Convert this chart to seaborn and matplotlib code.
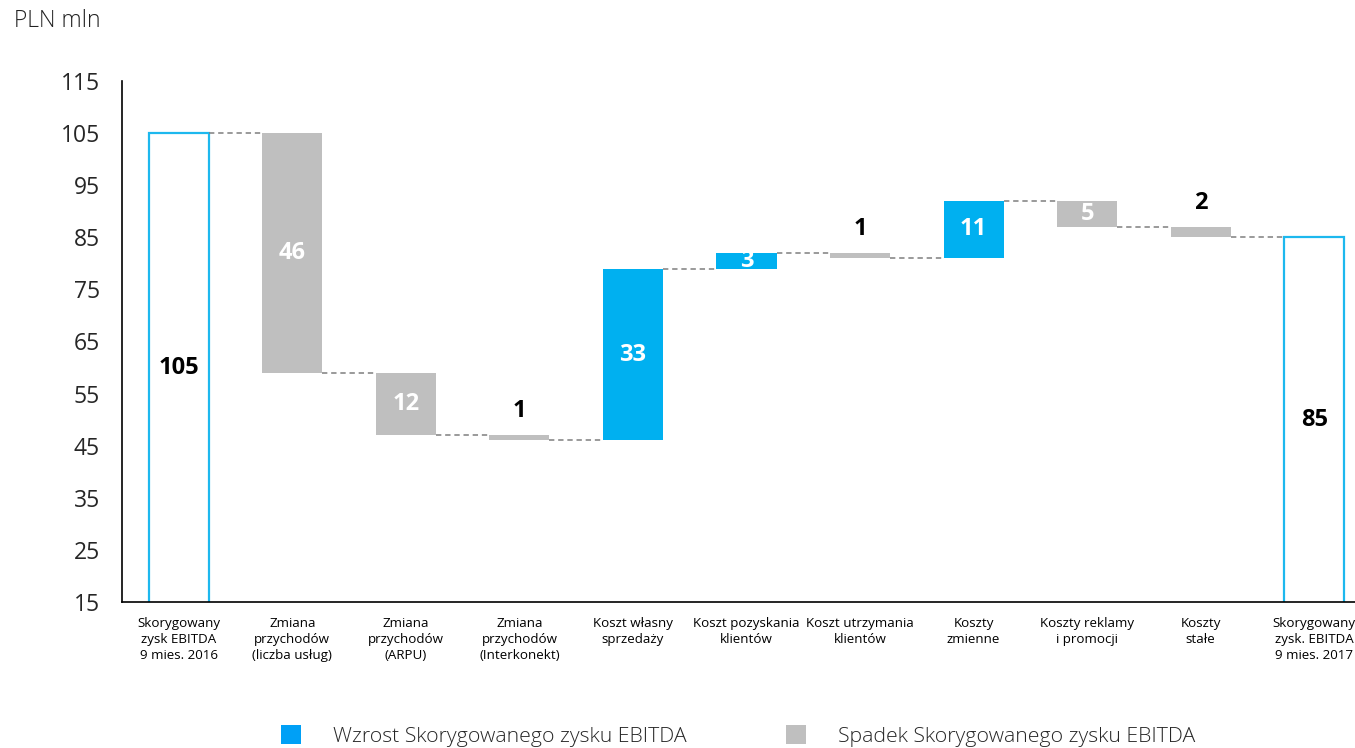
import matplotlib
matplotlib.use("Agg")
import matplotlib.pyplot as plt
import seaborn as sns
import pandas as pd
from matplotlib.patches import Patch

# --- data -------------------------------------------------------------
categories = [
    "Skorygowany\nzysk EBITDA\n9 mies. 2016",
    "Zmiana\nprzychodów\n(liczba usług)",
    "Zmiana\nprzychodów\n(ARPU)",
    "Zmiana\nprzychodów\n(Interkonekt)",
    "Koszt własny\nsprzedaży",
    "Koszt pozyskania\nklientów",
    "Koszt utrzymania\nklientów",
    "Koszty\nzmienne",
    "Koszty reklamy\ni promocji",
    "Koszty\nstałe",
    "Skorygowany\nzysk. EBITDA\n9 mies. 2017",
]
changes = [105, -46, -12, -1, 33, 3, -1, 11, -5, -2, 85]
kinds = ["total", "down", "down", "down", "up", "up", "down", "up", "down", "down", "total"]
legend_labels = ["Wzrost Skorygowanego zysku EBITDA", "Spadek Skorygowanego zysku EBITDA"]
y_ticks = list(range(15, 116, 10))

# --- styling ----------------------------------------------------------
BLUE = "#00B0F0"
BLUE_EDGE = "#1DB8EE"
GREY = "#BFBFBF"
LEGEND_BLUE = "#00A0F6"
FONT = "Open Sans"
BAR_W = 0.53
Y_MIN, Y_MAX = 15, 115

sns.set_theme(style="white")
plt.rcParams["font.family"] = [FONT, "DejaVu Sans"]

# --- waterfall geometry -----------------------------------------------
bottoms, heights, levels = [], [], []
level = 0
for ch, kind in zip(changes, kinds):
    if kind == "total":
        bottoms.append(0)
        heights.append(ch)
        level = ch
    else:
        new_level = level + ch
        bottoms.append(min(level, new_level))
        heights.append(abs(ch))
        level = new_level
    levels.append(level)

df = pd.DataFrame({"cat": categories, "height": heights, "bottom": bottoms, "kind": kinds})

W, H, DPI = 1355, 748, 100
fig = plt.figure(figsize=(W / DPI, H / DPI), dpi=DPI)
left_px, right_px, top_px, bot_px = 122, 1371, 81, 602
ax = fig.add_axes([left_px / W, 1 - bot_px / H, (right_px - left_px) / W, (bot_px - top_px) / H])

sns.barplot(data=df, x="cat", y="height", order=categories, bottom=df["bottom"].values,
            color=GREY, width=BAR_W, ax=ax, saturation=1, linewidth=0)

for p, kind in zip(ax.patches, kinds):
    if kind == "total":
        p.set_facecolor("white")
        p.set_edgecolor(BLUE_EDGE)
        p.set_linewidth(1.6)
    elif kind == "up":
        p.set_facecolor(BLUE)
    else:
        p.set_facecolor(GREY)

# dashed connectors between consecutive bars
for i in range(len(categories) - 1):
    ax.plot([i + BAR_W / 2, i + 1 - BAR_W / 2], [levels[i], levels[i]],
            color="#7F7F7F", lw=1.1, ls=(0, (3.5, 2.5)), zorder=1)

# value labels
VAL_FS = 17
for i, (ch, kind) in enumerate(zip(changes, kinds)):
    txt = str(abs(ch))
    if kind == "total":
        ax.text(i, (Y_MIN + ch) / 2, txt, ha="center", va="center",
                fontsize=VAL_FS, fontweight="bold", color="black")
    elif abs(ch) >= 3:
        ax.text(i, bottoms[i] + heights[i] / 2, txt, ha="center", va="center",
                fontsize=VAL_FS, fontweight="bold", color="white")
    else:
        ax.text(i, bottoms[i] + heights[i] + 4.6, txt, ha="center", va="center",
                fontsize=VAL_FS, fontweight="bold", color="black")

# axes
ax.set_ylim(Y_MIN, Y_MAX)
ax.set_xlim(-0.5, len(categories) - 0.5)
ax.set_yticks(y_ticks)
ax.set_yticklabels([str(t) for t in y_ticks], fontsize=16.5)
ax.set_xlabel("")
ax.set_ylabel("")
ax.tick_params(axis="both", length=0)
ax.tick_params(axis="y", pad=16)
ax.tick_params(axis="x", pad=11)
for lab in ax.get_xticklabels():
    lab.set_fontsize(9.6)
    lab.set_linespacing(1.3)
    lab.set_color("black")
for s in ["top", "right"]:
    ax.spines[s].set_visible(False)
for s in ["left", "bottom"]:
    ax.spines[s].set_color("black")
    ax.spines[s].set_linewidth(1.2)

fig.text(14 / W, 1 - 21 / H, "PLN mln", fontsize=16.5, fontweight="light",
         color="#222222", ha="left", va="center")

handles = [Patch(facecolor=LEGEND_BLUE, edgecolor="none"),
           Patch(facecolor=GREY, edgecolor="none")]
fig.legend(handles, legend_labels, loc="center", bbox_to_anchor=(738 / W, 1 - 736 / H),
           ncol=2, frameon=False, handlelength=0.95, handleheight=0.95,
           handletextpad=1.5, columnspacing=4.7, prop={"weight": "light", "size": 15.3})

fig.savefig("out.png", dpi=DPI)
